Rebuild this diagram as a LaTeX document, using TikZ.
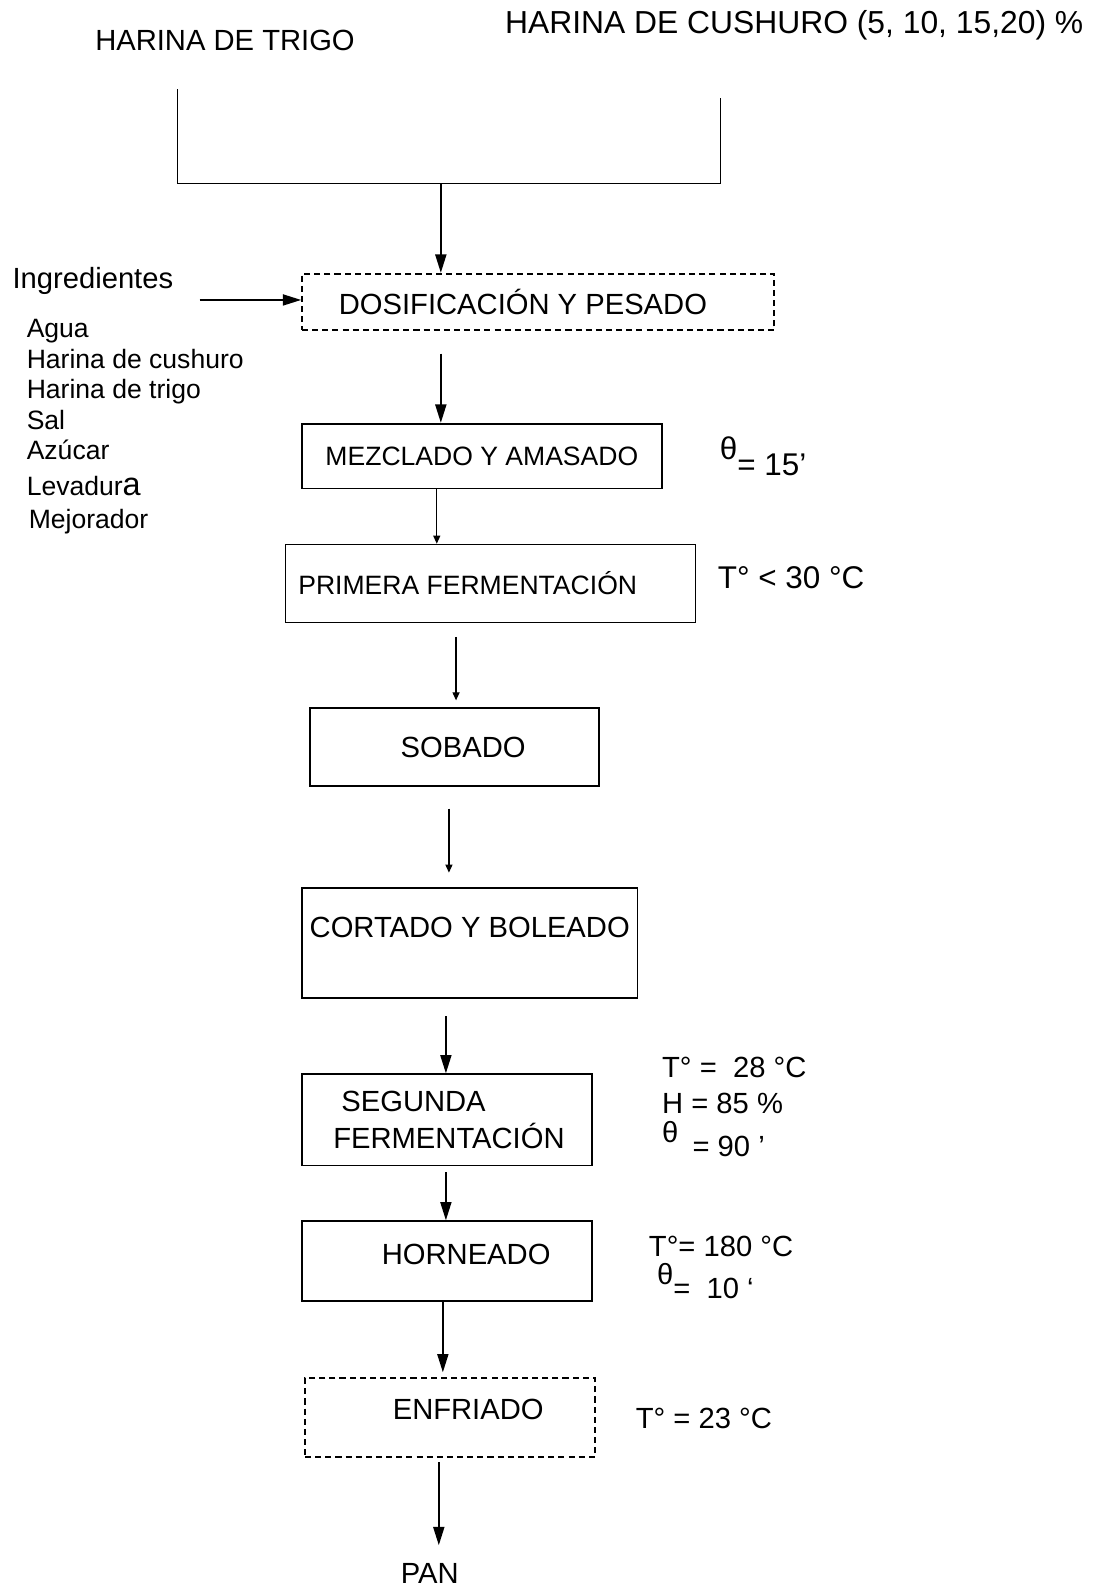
\documentclass[tikz,border=0pt]{standalone}
\usepackage{fontspec}
\setmainfont{Liberation Sans}
\usetikzlibrary{arrows.meta, positioning}

\tikzset{
  proc/.style={draw, line width=0.9pt, inner sep=0pt, align=center, font=\fontsize{14.4}{18}\selectfont},
  dproc/.style={proc, dash pattern=on 3pt off 2pt},
  note/.style={inner sep=0pt, anchor=west, font=\fontsize{14.4}{18}\selectfont},
  flow/.style={-{Triangle[length=9pt,width=5.5pt]}, line width=0.7pt},
  flowsm/.style={-{Triangle[length=4pt,width=3.5pt]}, line width=0.6pt}
}

\begin{document}
\begin{tikzpicture}[x=0.5pt,y=-0.5pt]
	\useasboundingbox (0,0) rectangle (1079,1568);
	
	% materias primas
	\node[note, anchor=center] (trigo) at (222,40) {HARINA DE TRIGO};
	\node[note, font=\fontsize{15.7}{19}\selectfont] (cush) at (498,25) {HARINA DE CUSHURO (5, 10, 15,20) \%};
	\coordinate (jn) at (435,181);
	\draw[line width=0.7pt] (175,88) |- (jn) -| (711,97);
	
	% etapas
	\node[dproc, minimum width=233pt, minimum height=28pt] (dos) at (531,298) {DOSIFICACIÓN Y PESADO\hspace*{15pt}};
	\node[proc, minimum width=177.5pt, minimum height=32pt, font=\fontsize{13.1}{16}\selectfont] (mez) at (475.5,450) {MEZCLADO Y AMASADO};
	\node[proc, line width=0.5pt, minimum width=202pt, minimum height=38.5pt, font=\fontsize{13.1}{16}\selectfont] (prim) at (484,575.5) {PRIMERA FERMENTACIÓN\hspace*{22.5pt}};
	\node[proc, minimum width=142.5pt, minimum height=38.5pt] (sob) at (448.5,737.5) {\hspace*{8.5pt}SOBADO};
	\node[proc, minimum width=165.5pt, minimum height=54.5pt, text depth=15.5pt] (cor) at (463.5,930.5) {CORTADO Y BOLEADO};
	\node[proc, align=left, minimum width=143pt, minimum height=45pt] (seg) at (441,1105) {\hspace*{6pt}SEGUNDA\\\hspace*{2pt}FERMENTACIÓN};
	\node[proc, minimum width=143pt, minimum height=39.5pt, text depth=7pt] (hor) at (441,1244.5) {\hspace*{19pt}HORNEADO};
	\node[dproc, minimum width=143pt, minimum height=39pt, text depth=8pt] (enf) at (444,1399) {\hspace*{18pt}ENFRIADO};
	\node[note, anchor=center] (pan) at (424,1553) {PAN};
	
	% ingredientes
	\node[note] (ing) at (12,277) {Ingredientes};
	\node[inner sep=0pt, anchor=north west, align=left, font=\fontsize{13.1}{15}\selectfont] (lista) at (26,315)
	{Agua\\Harina de cushuro\\Harina de trigo\\Sal\\Azúcar\\[3pt]Levadur{\fontsize{16}{15}\selectfont a}\\[1pt]\hspace*{1pt}Mejorador};
	\coordinate (ingin) at (197,296);
	\draw[flow] (ingin) -- (ingin -| dos.west);
	
	% condiciones
	\node[note, anchor=base west, font=\fontsize{15.5}{18}\selectfont] (tmez) at (710,453.5) {θ\raisebox{-8pt}{= 15’}};
	\node[note, font=\fontsize{15.5}{18}\selectfont] (tprim) at (708,570) {T° < 30 °C};
	\node[note] (tseg1) at (653,1053) {T° = \ 28 °C};
	\node[note] (tseg2) at (653,1089) {H = 85 \%};
	\node[note, anchor=base west] (tseg3) at (653,1127.5) {θ\hspace{7pt}\raisebox{-7pt}{= 90 ’}};
	\node[note] (thor1) at (640,1230) {T°= 180 °C};
	\node[note, anchor=base west] (thor2) at (648,1267.5) {θ\raisebox{-7pt}{= \ 10 ‘}};
	\node[note] (tenf) at (627,1400) {T° = 23 °C};
	
	% flechas
	\draw[flow] (jn) -- (jn |- dos.north);
	\draw[flow, shorten <=11pt] (dos.south -| jn) -- (mez.north -| jn);
	\draw[flowsm] (mez.south -| 431,0) -- (prim.north -| 431,0);
	\draw[flowsm, shorten <=7pt, shorten >=3.5pt] (prim.south -| 450,0) -- (sob.north -| 450,0);
	\draw[flowsm, shorten <=10.5pt, shorten >=7pt] (sob.south -| 443,0) -- (cor.north -| 443,0);
	\draw[flow, shorten <=8.5pt] (cor.south -| 440,0) -- (seg.north -| 440,0);
	\draw[flow, shorten <=3pt] (seg.south -| 440,0) -- (hor.north -| 440,0);
	\draw[flow, shorten >=2.5pt] (hor.south -| 437,0) -- (enf.north -| 437,0);
	\draw[flow, shorten <=2pt, shorten >=9pt] (enf.south -| 433,0) -- (pan.north -| 433,0);
	
\end{tikzpicture}
\end{document}
